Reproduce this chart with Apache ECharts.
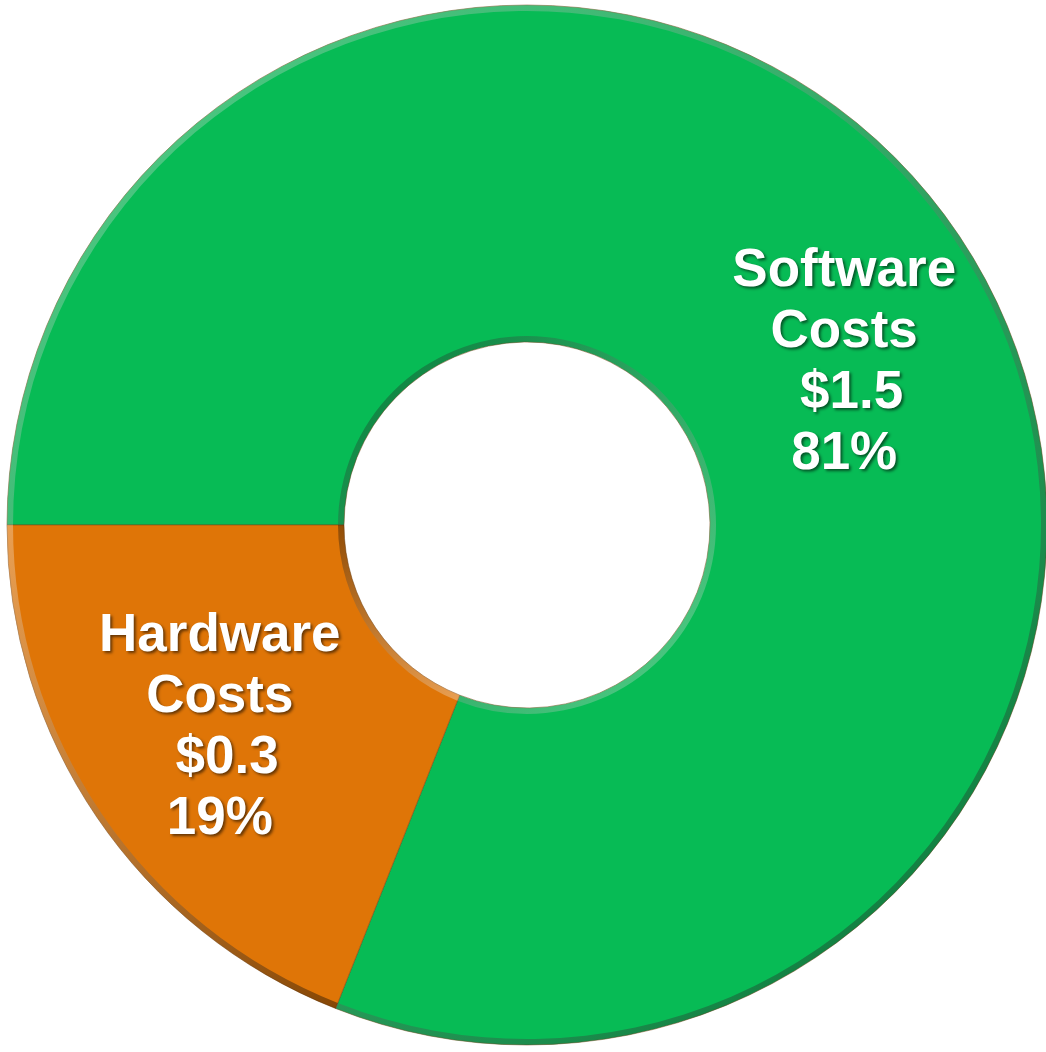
<!DOCTYPE html>
<html>
<head>
<meta charset="utf-8">
<script src="https://cdn.jsdelivr.net/npm/echarts@6/dist/echarts.min.js"></script>
<style>
html,body{margin:0;padding:0;background:#ffffff;}
#chart{width:1046px;height:1052px;}
</style>
</head>
<body>
<div id="chart"></div>
<script>
// Data
const categories = ['Software\nCosts', 'Hardware\nCosts'];
const amounts = ['$1.5', '$0.3'];
const percents = [81, 19];
const colors = ['#07BB55', '#DF7507'];
const labelOffsets = [[24, 37], [-14, 4]];

const chart = echarts.init(document.getElementById('chart'), null, {renderer: 'canvas'});

const CENTER = [527, 525];

const mainData = categories.map((c, i) => ({
  name: c,
  value: percents[i],
  itemStyle: {color: colors[i]},
  label: {offset: labelOffsets[i]}
}));

function lin(x, y, x2, y2, c0, c1) {
  return {type: 'linear', x: x, y: y, x2: x2, y2: y2,
    colorStops: [{offset: 0, color: c0}, {offset: 1, color: c1}]};
}

const rimOuter = categories.map((c, i) => ({
  name: c, value: percents[i],
  itemStyle: {color: lin(0, 0, 1, 1, 'rgba(255,255,255,0.30)', 'rgba(0,0,0,0.40)')}
}));
const rimInner = categories.map((c, i) => ({
  name: c, value: percents[i],
  itemStyle: {color: lin(0, 0, 1, 1, 'rgba(0,0,0,0.35)', 'rgba(255,255,255,0.30)')}
}));

chart.setOption({
  backgroundColor: '#ffffff',
  animation: false,
  series: [
    {
      type: 'pie',
      center: CENTER,
      radius: [183, 520],
      startAngle: 180,
      clockwise: true,
      avoidLabelOverlap: false,
      itemStyle: {borderColor: 'rgba(120,70,20,0.5)', borderWidth: 1},
      label: {
        show: true,
        position: 'inside',
        formatter: function (p) {
          return p.name + '\n ' + amounts[p.dataIndex] + '\n' + percents[p.dataIndex] + '%';
        },
        color: '#ffffff',
        fontFamily: 'Liberation Sans, Arial, sans-serif',
        fontWeight: 'bold',
        fontSize: 53,
        lineHeight: 61,
        align: 'center',
        textShadowColor: 'rgba(0,0,0,0.55)',
        textShadowBlur: 3,
        textShadowOffsetX: 2,
        textShadowOffsetY: 2
      },
      labelLine: {show: false},
      emphasis: {disabled: true},
      data: mainData
    },
    {
      type: 'pie',
      silent: true,
      center: CENTER,
      radius: [514, 520],
      startAngle: 180,
      clockwise: true,
      label: {show: false},
      labelLine: {show: false},
      emphasis: {disabled: true},
      data: rimOuter
    },
    {
      type: 'pie',
      silent: true,
      center: CENTER,
      radius: [183, 189],
      startAngle: 180,
      clockwise: true,
      label: {show: false},
      labelLine: {show: false},
      emphasis: {disabled: true},
      data: rimInner
    }
  ]
});
</script>
</body>
</html>
